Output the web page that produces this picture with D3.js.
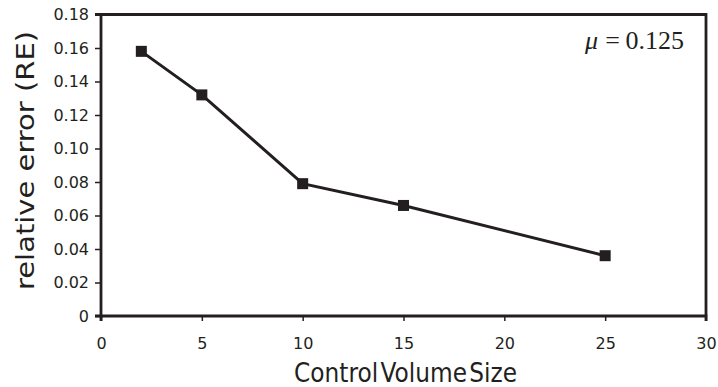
<!DOCTYPE html>
<html><head><meta charset="utf-8">
<script src="https://cdn.jsdelivr.net/npm/d3@7"></script>
<style>body{margin:0;background:#fff}</style>
</head><body>
<svg id="c" width="718" height="387"></svg>
<script>
const xValues = [2, 5, 10, 15, 25];
const reValues = [0.158, 0.132, 0.079, 0.066, 0.036];
const xTicks = [0, 5, 10, 15, 20, 25, 30];
const yTicks = [0, 0.02, 0.04, 0.06, 0.08, 0.10, 0.12, 0.14, 0.16, 0.18];
const yTickLabels = ["0", "0.02", "0.04", "0.06", "0.08", "0.10", "0.12", "0.14", "0.16", "0.18"];

const svg = d3.select("#c");
const col = "#231f20";
const L = 101, R = 706, T = 14.5, B = 316;
const x = d3.scaleLinear().domain([0, 30]).range([L, R]);
const y = d3.scaleLinear().domain([0, 0.18]).range([B, T]);

const xa = svg.append("g").attr("transform", `translate(0,${B})`)
  .call(d3.axisBottom(x).tickValues(xTicks).tickSize(5).tickPadding(17));
const ya = svg.append("g").attr("transform", `translate(${L},0)`)
  .call(d3.axisLeft(y).tickValues(yTicks).tickFormat((d,i)=>yTickLabels[i]).tickSize(6).tickPadding(6));
[xa, ya].forEach(g => {
  g.select(".domain").attr("stroke", col).attr("stroke-width", 2.8);
  g.selectAll(".tick line").attr("stroke", col).attr("stroke-width", 1.5);
  g.selectAll(".tick text").attr("fill", col).style("font-family", "DejaVu Sans").style("font-size", "16px");
});
ya.selectAll(".domain").attr("d", `M${-6},${T}H0V${B}H${-6}`);
xa.selectAll(".domain").attr("d", `M${L},5V0H${R}V5`);
// top and right frame
svg.append("path").attr("d", `M${L},${T}H${R}V${B}`).attr("fill", "none")
  .attr("stroke", col).attr("stroke-width", 2.8);

const pts = xValues.map((v, i) => [v, reValues[i]]);
svg.append("path").datum(pts)
  .attr("d", d3.line().x(d => x(d[0])).y(d => y(d[1])))
  .attr("fill", "none").attr("stroke", col).attr("stroke-width", 3);
svg.selectAll("rect.m").data(pts).enter().append("rect")
  .attr("x", d => x(d[0]) - 5.5).attr("y", d => y(d[1]) - 5.5)
  .attr("width", 11).attr("height", 11).attr("fill", col);

svg.append("text").attr("x", 294).attr("y", 382)
  .attr("textLength", 223).attr("lengthAdjust", "spacingAndGlyphs")
  .style("font-family", "DejaVu Sans").style("font-size", "27px").style("word-spacing", "-6px")
  .attr("fill", col).text("Control Volume Size");
svg.append("text").attr("transform", `translate(34,290) rotate(-90)`)
  .attr("textLength", 259).attr("lengthAdjust", "spacingAndGlyphs")
  .style("font-family", "DejaVu Sans").style("font-size", "24.5px")
  .attr("fill", col).text("relative error (RE)");
svg.append("text").attr("x", 585).attr("y", 49)
  .style("font-family", "Liberation Serif").style("font-size", "26px").style("font-style", "italic")
  .attr("fill", col).text("μ");
svg.append("text").attr("x", 612.5).attr("y", 49).attr("text-anchor", "middle")
  .style("font-family", "Liberation Serif").style("font-size", "26px")
  .attr("fill", col).text("=");
svg.append("text").attr("x", 684).attr("y", 49).attr("text-anchor", "end")
  .style("font-family", "Liberation Serif").style("font-size", "26px")
  .attr("fill", col).text("0.125");
</script>
</body></html>
